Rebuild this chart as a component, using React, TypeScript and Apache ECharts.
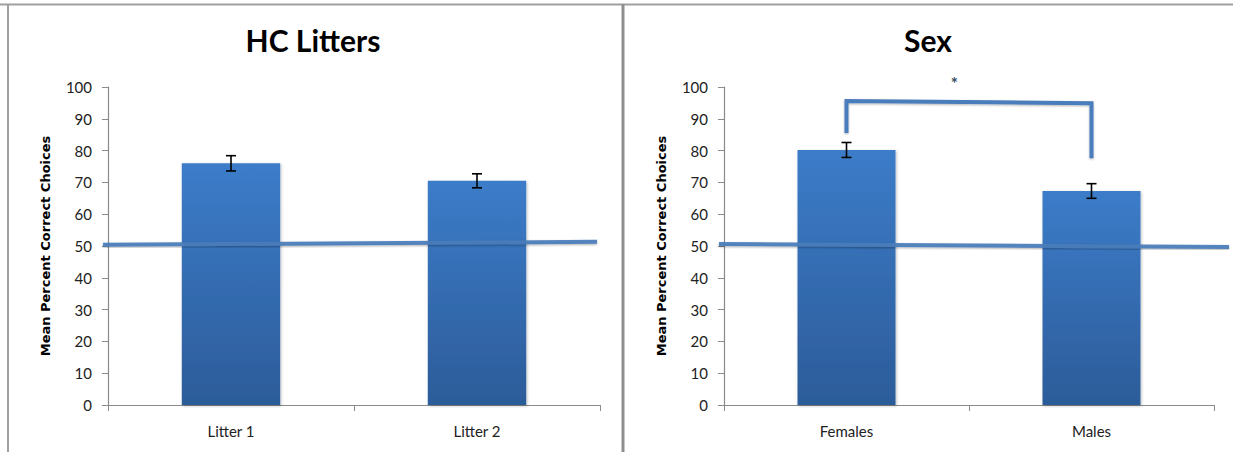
import React, { useEffect, useRef } from 'react';
import * as echarts from 'echarts';

const litterCategories = ['Litter 1', 'Litter 2'];
const litterMeans = [76, 70.5];
const litterErrors = [2.4, 2.2];
const sexCategories = ['Females', 'Males'];
const sexMeans = [80.2, 67.3];
const sexErrors = [2.35, 2.3];
const panelTitles = ['HC Litters', 'Sex'];
const yAxisTitle = 'Mean Percent Correct Choices';
const yMin = 0;
const yMax = 100;
const yInterval = 10;
// chance reference line: value at its left end, value at its right end
const litterChanceLine = [50.4, 51.3];
const sexChanceLine = [50.6, 49.7];
// significance bracket: left leg bottom, left leg top, right leg top, right leg bottom
const sexBracket = [85.5, 95.6, 94.9, 77.6];
const sexSignificance = '*';

const FONT = 'Lato, "Open Sans", sans-serif';
const LINE_BLUE = '#4a7dbb';

function barGradient() {
  return new echarts.graphic.LinearGradient(0, 0, 0, 1, [
    { offset: 0, color: '#3c7cc9' },
    { offset: 1, color: '#2c5c99' },
  ]);
}

function errorBarRender(params: any, api: any) {
  const idx = api.value(0);
  const mean = api.value(1);
  const err = api.value(2);
  const top = api.coord([idx, mean + err]);
  const bot = api.coord([idx, mean - err]);
  const cx = top[0];
  const half = 5;
  const style = { stroke: '#000', lineWidth: 1.6 };
  return {
    type: 'group',
    children: [
      { type: 'line', shape: { x1: cx, y1: top[1], x2: cx, y2: bot[1] }, style },
      { type: 'line', shape: { x1: cx - half, y1: top[1], x2: cx + half, y2: top[1] }, style },
      { type: 'line', shape: { x1: cx - half, y1: bot[1], x2: cx + half, y2: bot[1] }, style },
    ],
  };
}

function chanceRender(leftExt: number, rightExt: number) {
  return (params: any, api: any) => {
    const cs = params.coordSys;
    const y0 = api.coord([0, api.value(1)])[1];
    const y1 = api.coord([0, api.value(2)])[1];
    return {
      type: 'line',
      shape: { x1: cs.x - leftExt, y1: y0, x2: cs.x + cs.width + rightExt, y2: y1 },
      style: {
        stroke: LINE_BLUE,
        lineWidth: 4,
        opacity: 0.92,
        shadowBlur: 2,
        shadowColor: 'rgba(0,0,0,0.35)',
        shadowOffsetY: 1,
      },
    };
  };
}

function bracketRender(params: any, api: any) {
  const p0 = api.coord([0, api.value(1)]);
  const p1 = api.coord([0, api.value(2)]);
  const p2 = api.coord([1, api.value(3)]);
  const p3 = api.coord([1, api.value(4)]);
  const starX = p1[0] + (p2[0] - p1[0]) * 0.44;
  return {
    type: 'group',
    children: [
      {
        type: 'polyline',
        shape: { points: [p0, p1, p2, p3] },
        style: {
          stroke: LINE_BLUE,
          lineWidth: 4,
          fill: 'none',
          shadowBlur: 2,
          shadowColor: 'rgba(0,0,0,0.3)',
          shadowOffsetY: 1,
        },
      },
      {
        type: 'text',
        style: {
          text: sexSignificance,
          x: starX,
          y: p1[1] - 17,
          textAlign: 'center',
          textVerticalAlign: 'middle',
          fill: '#3a4a66',
          font: 'bold 17px ' + FONT,
        },
      },
    ],
  };
}

export default function App() {
  const ref = useRef<HTMLDivElement>(null);

  useEffect(() => {
    if (!ref.current) return;
    const chart = echarts.init(ref.current, undefined, { renderer: 'svg' });

    const grids = [
      { left: 108, top: 87, width: 492, height: 318 },
      { left: 724, top: 87, width: 490, height: 318 },
    ];

    const xAxisBase = {
      type: 'category',
      boundaryGap: true,
      axisLine: { lineStyle: { color: '#8a8a8a', width: 1.2 } },
      axisTick: { show: true, length: 6, lineStyle: { color: '#8a8a8a' } },
      axisLabel: { color: '#222', fontSize: 15, fontFamily: FONT, margin: 18 },
      splitLine: { show: false },
    };
    const yAxisBase = {
      type: 'value',
      min: yMin,
      max: yMax,
      interval: yInterval,
      name: yAxisTitle,
      nameLocation: 'middle',
      nameGap: 56,
      nameRotate: 90,
      nameTextStyle: { fontWeight: 'bold', fontSize: 13, color: '#000', fontFamily: '"DejaVu Sans", sans-serif' },
      axisLine: { show: true, lineStyle: { color: '#8a8a8a', width: 1.2 } },
      axisTick: { show: true, length: 6, lineStyle: { color: '#8a8a8a' } },
      axisLabel: { color: '#222', fontSize: 15, fontFamily: FONT, margin: 16 },
      splitLine: { show: false },
    };

    const barStyle = {
      color: barGradient(),
      shadowBlur: 3,
      shadowColor: 'rgba(0,0,0,0.25)',
      shadowOffsetX: 1,
      shadowOffsetY: 1,
    };

    const titleStyle = { fontSize: 30, fontWeight: 'bold', color: '#000', fontFamily: FONT };

    chart.setOption({
      animation: false,
      backgroundColor: '#fff',
      title: [
        { text: panelTitles[0], left: 313, top: 25, textAlign: 'center', padding: 0, textStyle: titleStyle },
        { text: panelTitles[1], left: 928, top: 25, textAlign: 'center', padding: 0, textStyle: titleStyle },
      ],
      grid: grids,
      xAxis: [
        { ...xAxisBase, gridIndex: 0, data: litterCategories },
        { ...xAxisBase, gridIndex: 1, data: sexCategories },
      ],
      yAxis: [
        { ...yAxisBase, gridIndex: 0 },
        { ...yAxisBase, gridIndex: 1 },
      ],
      graphic: [
        { type: 'line', shape: { x1: 0, y1: 4.5, x2: 1233, y2: 4.5 }, style: { stroke: '#a0a0a0', lineWidth: 2 } },
        { type: 'line', shape: { x1: 8, y1: 4, x2: 8, y2: 452 }, style: { stroke: '#a0a0a0', lineWidth: 2 } },
        { type: 'line', shape: { x1: 623, y1: 4, x2: 623, y2: 452 }, style: { stroke: '#8e8e8e', lineWidth: 3 } },
      ],
      series: [
        { type: 'bar', xAxisIndex: 0, yAxisIndex: 0, data: litterMeans, barWidth: '40%', itemStyle: barStyle, z: 2 },
        { type: 'bar', xAxisIndex: 1, yAxisIndex: 1, data: sexMeans, barWidth: '40%', itemStyle: barStyle, z: 2 },
        {
          type: 'custom',
          xAxisIndex: 0,
          yAxisIndex: 0,
          renderItem: chanceRender(5, -3),
          data: [[0, litterChanceLine[0], litterChanceLine[1]]],
          z: 3,
          silent: true,
        },
        {
          type: 'custom',
          xAxisIndex: 1,
          yAxisIndex: 1,
          renderItem: chanceRender(5, 15),
          data: [[0, sexChanceLine[0], sexChanceLine[1]]],
          z: 3,
          silent: true,
        },
        {
          type: 'custom',
          xAxisIndex: 0,
          yAxisIndex: 0,
          renderItem: errorBarRender,
          data: litterMeans.map((m, i) => [i, m, litterErrors[i]]),
          z: 4,
        },
        {
          type: 'custom',
          xAxisIndex: 1,
          yAxisIndex: 1,
          renderItem: errorBarRender,
          data: sexMeans.map((m, i) => [i, m, sexErrors[i]]),
          z: 4,
        },
        {
          type: 'custom',
          xAxisIndex: 1,
          yAxisIndex: 1,
          renderItem: bracketRender,
          data: [[0, sexBracket[0], sexBracket[1], sexBracket[2], sexBracket[3]]],
          z: 4,
          silent: true,
        },
      ],
    });

    return () => chart.dispose();
  }, []);

  return (
    <div
      ref={ref}
      style={{ position: 'absolute', left: 0, top: 0, width: 1233, height: 452 }}
    />
  );
}
